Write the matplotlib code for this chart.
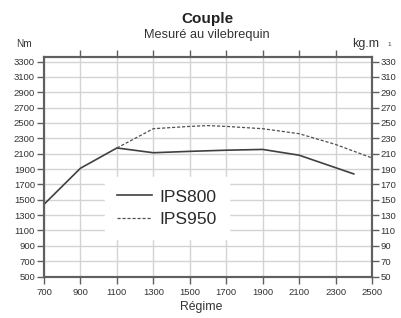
import matplotlib
matplotlib.use("Agg")
import matplotlib.pyplot as plt

plt.rcParams['font.family'] = ['Liberation Sans', 'DejaVu Sans']

rpm_800 = [700, 900, 1100, 1300, 1500, 1700, 1900, 2100, 2400]
torque_800 = [1440, 1910, 2174, 2112, 2130, 2145, 2155, 2080, 1836]
rpm_950 = [1100, 1300, 1500, 1600, 1700, 1900, 2100, 2300, 2500]
torque_950 = [2174, 2425, 2455, 2465, 2455, 2425, 2360, 2220, 2044]

x_ticks = list(range(700, 2501, 200))
y_ticks = list(range(500, 3301, 200))
y2_labels = [str(v // 10) for v in y_ticks]

title = "Couple"
subtitle = "Mesuré au vilebrequin"
xlabel = "Régime"
left_unit = "Nm"
right_unit = "kg.m"

txt = "#333333"
spine_c = "#606060"
grid_c = "#d4d4d4"

fig = plt.figure(figsize=(4.01, 3.18), dpi=100)
ax = fig.add_axes([44 / 401, 1 - 276.5 / 318, (372 - 44) / 401, (276.5 - 57.3) / 318])
ax.set_xlim(700, 2500)
ax.set_ylim(500, 3355)

ax.grid(True, color=grid_c, linewidth=1.0)
ax.set_axisbelow(True)

l1, = ax.plot(rpm_800, torque_800, color="#404040", linewidth=1.2, label="IPS800")
l2, = ax.plot(rpm_950, torque_950, color="#505050", linewidth=0.9, linestyle=(0, (2.5, 1.5)), label="IPS950")

ax.set_xticks(x_ticks)
ax.set_xticklabels([str(v) for v in x_ticks])
ax.set_yticks(y_ticks)
ax.set_yticklabels([str(v) for v in y_ticks])
ax.tick_params(axis='both', direction='out', length=5, width=1, color=spine_c,
               labelsize=6.8, labelcolor=txt, pad=1.5)
ax.tick_params(axis='x', pad=3)

ax2 = ax.twinx()
ax2.set_ylim(ax.get_ylim())
ax2.set_yticks(y_ticks)
ax2.set_yticklabels(y2_labels)
ax2.tick_params(axis='y', direction='out', length=5, width=1, color=spine_c,
                labelsize=6.8, labelcolor=txt, pad=1)

axt = ax.secondary_xaxis('top')
axt.set_xticks(x_ticks[1:-1])
axt.set_xticklabels([])
axt.tick_params(direction='out', length=5, width=1, color=spine_c)
axt.spines['top'].set_visible(False)

for a in (ax, ax2):
    for s in a.spines.values():
        s.set_color(spine_c)
        s.set_linewidth(1.5)

leg = ax.legend(handles=[l1, l2], loc='center', bbox_to_anchor=((167 - 44) / 328, (276.5 - 208) / 219.2),
                frameon=True, fontsize=12.6, handlelength=2.0, handletextpad=0.4,
                labelspacing=0.4, borderpad=0.7, fancybox=False)
leg.get_frame().set_edgecolor('white')
leg.get_frame().set_facecolor('white')
leg.get_frame().set_alpha(1.0)
for t in leg.get_texts():
    t.set_color("#2a2a2a")

fig.text(207 / 401, 1 - 19 / 318, title, ha='center', va='center', fontsize=11, fontweight='bold', color="#222222")
fig.text(207 / 401, 1 - 35 / 318, subtitle, ha='center', va='center', fontsize=9.2, color=txt)
fig.text(24 / 401, 1 - 44 / 318, left_unit, ha='center', va='center', fontsize=7.2, color=txt)
fig.text(366 / 401, 1 - 44 / 318, right_unit, ha='center', va='center', fontsize=9, color=txt)
fig.text(389 / 401, 1 - 45 / 318, "1", ha='center', va='center', fontsize=4.5, color=txt)
fig.text(201 / 401, 1 - 307 / 318, xlabel, ha='center', va='center', fontsize=8.8, color=txt)

fig.savefig("out.png", dpi=100)
